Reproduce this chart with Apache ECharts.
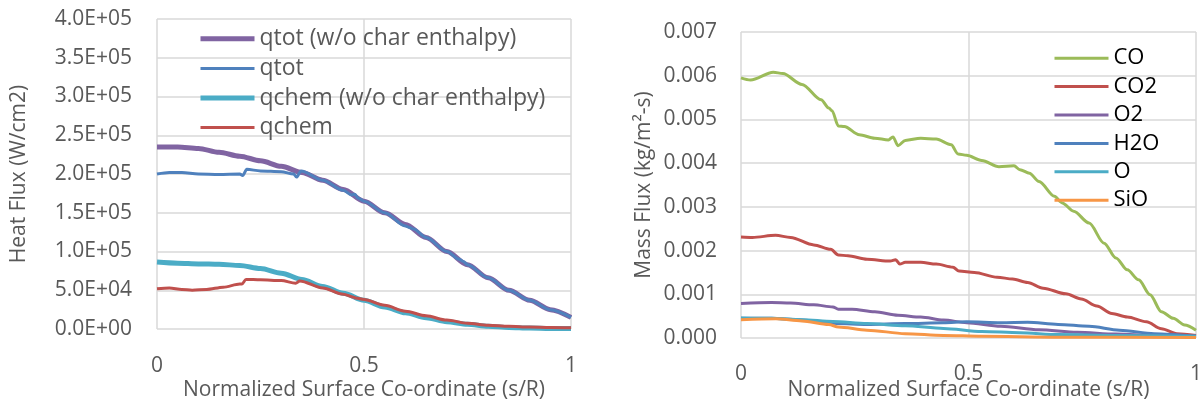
<!DOCTYPE html>
<html>
<head>
<meta charset="utf-8">
<script src="https://cdn.jsdelivr.net/npm/echarts@6/dist/echarts.min.js"></script>
<style>
  html, body { margin: 0; padding: 0; background: #fff; }
  #chart { width: 1199px; height: 403px; }
</style>
</head>
<body>
<div id="chart"></div>
<script>
// left chart: heat flux vs s/R, points are [s/R, W/cm2]
const qtotNoChar = [[0, 2.35e5], [0.05, 2.35e5], [0.1, 2.33e5], [0.15, 2.28e5], [0.2, 2.23e5], [0.25, 2.17e5], [0.3, 2.1e5], [0.35, 2.02e5], [0.4, 1.92e5], [0.45, 1.8e5], [0.5, 1.65e5], [0.55, 1.5e5], [0.6, 1.35e5], [0.65, 1.18e5], [0.7, 1.0e5], [0.75, 0.83e5], [0.8, 0.66e5], [0.85, 0.5e5], [0.9, 0.37e5], [0.95, 0.25e5], [1.0, 0.15e5]];
const qtot = [[0, 2.0e5], [0.03, 2.02e5], [0.06, 2.02e5], [0.1, 2.0e5], [0.15, 1.995e5], [0.2, 2.0e5], [0.207, 1.98e5], [0.217, 2.06e5], [0.25, 2.04e5], [0.3, 2.03e5], [0.33, 2.0e5], [0.337, 1.96e5], [0.348, 2.04e5], [0.4, 1.92e5], [0.45, 1.79e5], [0.47, 1.73e5], [0.478, 1.74e5], [0.485, 1.69e5], [0.5, 1.65e5], [0.55, 1.5e5], [0.6, 1.33e5], [0.61, 1.31e5], [0.62, 1.29e5], [0.65, 1.18e5], [0.7, 1.0e5], [0.73, 0.9e5], [0.74, 0.87e5], [0.75, 0.83e5], [0.8, 0.66e5], [0.85, 0.5e5], [0.9, 0.37e5], [0.95, 0.25e5], [1.0, 0.15e5]];
const qchemNoChar = [[0, 0.865e5], [0.05, 0.85e5], [0.1, 0.84e5], [0.15, 0.835e5], [0.2, 0.82e5], [0.25, 0.78e5], [0.3, 0.72e5], [0.35, 0.64e5], [0.4, 0.55e5], [0.45, 0.46e5], [0.5, 0.37e5], [0.55, 0.285e5], [0.6, 0.21e5], [0.65, 0.145e5], [0.7, 0.095e5], [0.75, 0.06e5], [0.8, 0.035e5], [0.85, 0.02e5], [0.9, 0.012e5], [0.95, 0.007e5], [1.0, 0.005e5]];
const qchem = [[0, 0.52e5], [0.03, 0.53e5], [0.06, 0.51e5], [0.085, 0.5e5], [0.12, 0.51e5], [0.16, 0.54e5], [0.2, 0.58e5], [0.205, 0.58e5], [0.215, 0.64e5], [0.25, 0.635e5], [0.3, 0.625e5], [0.335, 0.59e5], [0.345, 0.62e5], [0.4, 0.53e5], [0.45, 0.45e5], [0.475, 0.41e5], [0.48, 0.4e5], [0.5, 0.38e5], [0.55, 0.305e5], [0.6, 0.23e5], [0.65, 0.17e5], [0.7, 0.115e5], [0.75, 0.075e5], [0.8, 0.05e5], [0.85, 0.035e5], [0.9, 0.025e5], [0.95, 0.02e5], [1.0, 0.015e5]];

// right chart: mass flux vs s/R, points are [s/R, kg/m2-s]
const fluxCO = [[0, 0.00595], [0.021, 0.0059], [0.071, 0.00608], [0.092, 0.00605], [0.134, 0.0058], [0.176, 0.00545], [0.193, 0.00526], [0.2, 0.0052], [0.214, 0.00485], [0.227, 0.00484], [0.26, 0.00465], [0.294, 0.00457], [0.324, 0.00453], [0.334, 0.0046], [0.345, 0.0044], [0.361, 0.00452], [0.395, 0.00457], [0.429, 0.00455], [0.462, 0.00442], [0.477, 0.00421], [0.496, 0.00418], [0.529, 0.00406], [0.567, 0.00392], [0.6, 0.00394], [0.613, 0.00385], [0.634, 0.00377], [0.655, 0.00358], [0.689, 0.00324], [0.706, 0.00309], [0.731, 0.0029], [0.765, 0.00263], [0.798, 0.00217], [0.824, 0.00183], [0.849, 0.00156], [0.874, 0.00133], [0.899, 0.00099], [0.924, 0.0006], [0.95, 0.00045], [0.975, 0.0003], [1.0, 0.00018]];
const fluxCO2 = [[0, 0.00231], [0.025, 0.0023], [0.076, 0.00235], [0.109, 0.0023], [0.16, 0.00213], [0.197, 0.00203], [0.214, 0.0019], [0.235, 0.00188], [0.277, 0.0018], [0.328, 0.00176], [0.34, 0.00179], [0.349, 0.00169], [0.361, 0.00173], [0.395, 0.00173], [0.429, 0.00169], [0.466, 0.00162], [0.479, 0.00153], [0.513, 0.0015], [0.563, 0.00139], [0.597, 0.00135], [0.63, 0.00127], [0.664, 0.00114], [0.714, 0.00101], [0.748, 0.00089], [0.782, 0.00073], [0.815, 0.00056], [0.849, 0.00048], [0.891, 0.00037], [0.924, 0.00021], [0.958, 0.0001], [1.0, 0.00006]];
const fluxO2 = [[0, 0.00079], [0.067, 0.00081], [0.109, 0.0008], [0.16, 0.00076], [0.202, 0.00071], [0.214, 0.00066], [0.244, 0.00066], [0.294, 0.0006], [0.345, 0.00052], [0.395, 0.00048], [0.445, 0.00041], [0.496, 0.00035], [0.571, 0.00027], [0.655, 0.00019], [0.739, 0.00013], [0.824, 0.00009], [0.908, 0.00006], [1.0, 0.00004]];
const fluxH2O = [[0, 0.00045], [0.067, 0.00045], [0.126, 0.00042], [0.21, 0.00033], [0.277, 0.00031], [0.361, 0.00033], [0.445, 0.00035], [0.496, 0.00037], [0.571, 0.00035], [0.63, 0.00036], [0.697, 0.00031], [0.765, 0.00027], [0.832, 0.00018], [0.908, 0.0001], [1.0, 0.00004]];
const fluxO = [[0, 0.00046], [0.067, 0.00045], [0.134, 0.00042], [0.202, 0.00038], [0.277, 0.00033], [0.361, 0.00028], [0.445, 0.00022], [0.529, 0.00015], [0.613, 0.00012], [0.697, 0.00008], [0.824, 0.00006], [1.0, 0.00004]];
const fluxSiO = [[0, 0.00042], [0.076, 0.00044], [0.134, 0.00039], [0.193, 0.00031], [0.214, 0.00025], [0.277, 0.00018], [0.361, 0.0001], [0.445, 0.00006], [0.529, 0.00004], [0.697, 0.00002], [1.0, 0.00001]];

const xTitle = "Normalized Surface Co-ordinate (s/R)";
const leftYTitle = "Heat Flux (W/cm2)";
const rightYTitle = "Mass Flux (kg/m²-s)";

const FONT = "Open Sans";
const TXT = "#595959";
const GRID = "#d9d9d9";

const chart = echarts.init(document.getElementById("chart"));

function sciLabel(v) {
  // 4e5 -> "4.0E+05"
  return v.toExponential(1).toUpperCase().replace(/E([+-])(\d)$/, "E$10$2");
}

function xAxisCfg(gridIndex, gap, margin) {
  return {
    type: "value",
    gridIndex: gridIndex,
    min: 0,
    max: 1,
    interval: 0.5,
    name: xTitle,
    nameLocation: "middle",
    nameGap: gap,
    nameMoveOverlap: false,
    nameTextStyle: { fontFamily: FONT, fontSize: 21, color: TXT },
    axisLine: { show: false },
    axisTick: { show: false },
    axisLabel: { fontFamily: FONT, fontSize: 21, color: TXT, margin: margin },
    splitLine: { show: true, lineStyle: { color: GRID, width: 1.5 } }
  };
}

function line(name, data, color, width, xi) {
  return {
    name: name,
    type: "line",
    xAxisIndex: xi,
    yAxisIndex: xi,
    data: data,
    showSymbol: false,
    symbol: "none",
    smooth: 0.3,
    smoothMonotone: "x",
    lineStyle: { color: color, width: width },
    itemStyle: { color: color }
  };
}

// legend entry drawn as a plain line, no marker
function legendItem(name, width) {
  return { name: name, itemStyle: { opacity: 0 }, lineStyle: { width: width } };
}

chart.setOption({
  animation: false,
  textStyle: { fontFamily: FONT },
  grid: [
    { left: 157, top: 19, width: 414, height: 310, outerBoundsMode: "none" },
    { left: 741, top: 32, width: 455, height: 306, outerBoundsMode: "none" }
  ],
  xAxis: [xAxisCfg(0, 51, 27), xAxisCfg(1, 42, 26)],
  yAxis: [
    {
      type: "value",
      gridIndex: 0,
      min: 0,
      max: 4e5,
      interval: 5e4,
      name: leftYTitle,
      nameLocation: "middle",
      nameGap: 127,
      nameMoveOverlap: false,
      nameTextStyle: { fontFamily: FONT, fontSize: 21, color: TXT },
      axisLine: { show: false },
      axisTick: { show: false },
      axisLabel: { fontFamily: FONT, fontSize: 21, color: TXT, margin: 25, formatter: sciLabel },
      splitLine: { show: true, lineStyle: { color: GRID, width: 1.5 } }
    },
    {
      type: "value",
      gridIndex: 1,
      min: 0,
      max: 0.007,
      interval: 0.001,
      name: rightYTitle,
      nameLocation: "middle",
      nameGap: 86,
      nameMoveOverlap: false,
      nameTextStyle: { fontFamily: FONT, fontSize: 21, color: TXT },
      axisLine: { show: false },
      axisTick: { show: false },
      axisLabel: { fontFamily: FONT, fontSize: 21, color: TXT, margin: 24, formatter: v => v.toFixed(3) },
      splitLine: { show: true, lineStyle: { color: GRID, width: 1.5 } }
    }
  ],
  legend: [
    {
      left: 198,
      top: 24,
      padding: 0,
      orient: "vertical",
      itemWidth: 54,
      itemHeight: 14,
      itemGap: 0,
      textStyle: { fontFamily: FONT, fontSize: 23, color: TXT, lineHeight: 29.6 },
      data: [
        legendItem("qtot (w/o char enthalpy)", 5),
        legendItem("qtot", 3),
        legendItem("qchem (w/o char enthalpy)", 5),
        legendItem("qchem", 3)
      ]
    },
    {
      left: 1053,
      top: 44,
      padding: 0,
      orient: "vertical",
      itemWidth: 54,
      itemHeight: 14,
      itemGap: 0,
      textStyle: { fontFamily: FONT, fontSize: 22, color: "#000", lineHeight: 28.4 },
      data: ["CO", "CO2", "O2", "H2O", "O", "SiO"].map(n => legendItem(n, 3))
    }
  ],
  series: [
    line("qtot (w/o char enthalpy)", qtotNoChar, "#8064A2", 5, 0),
    line("qtot", qtot, "#4F81BD", 3, 0),
    line("qchem (w/o char enthalpy)", qchemNoChar, "#4BACC6", 5, 0),
    line("qchem", qchem, "#C0504D", 3, 0),
    line("CO", fluxCO, "#9BBB59", 3, 1),
    line("CO2", fluxCO2, "#C0504D", 3, 1),
    line("O2", fluxO2, "#8064A2", 3, 1),
    line("H2O", fluxH2O, "#4F81BD", 3, 1),
    line("O", fluxO, "#4BACC6", 3, 1),
    line("SiO", fluxSiO, "#F79646", 3, 1)
  ]
});
</script>
</body>
</html>
